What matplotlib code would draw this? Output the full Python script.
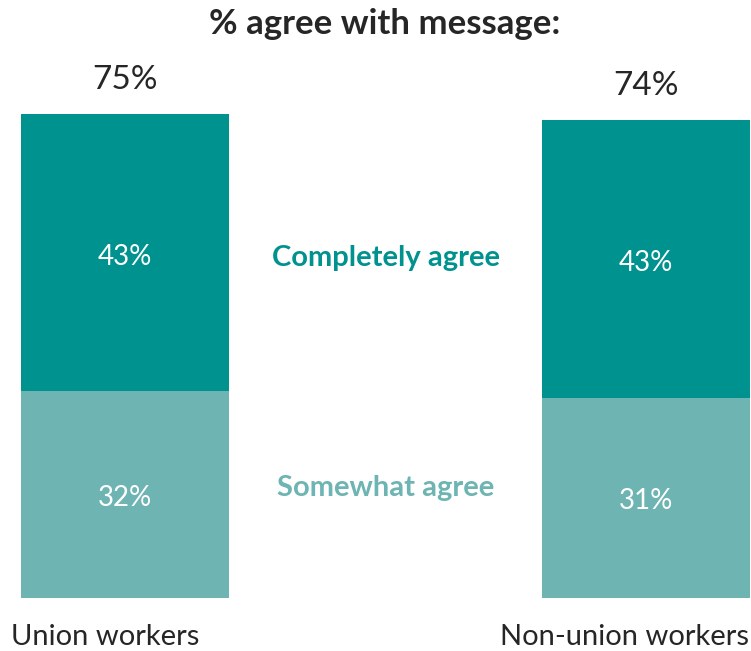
import matplotlib.pyplot as plt
import numpy as np

plt.rcParams['font.family'] = ['Lato', 'DejaVu Sans']

# data
groups = ['Union workers', 'Non-union workers']
somewhat = [32, 31]
completely = [43, 43]
totals = [75, 74]

dark = '#00928F'
light = '#6DB4B2'

fig = plt.figure(figsize=(7.51, 6.51), dpi=100)
ax = fig.add_axes([0, 53/651, 1, 598/651])
x = np.arange(len(groups))
w = 208/521.

ax.bar(x, somewhat, w, color=light)
ax.bar(x, completely, w, bottom=somewhat, color=dark)

for i in range(len(groups)):
    ax.text(x[i], somewhat[i]/2 - 0.5, '%d%%' % somewhat[i], ha='center', va='center',
            color='white', fontsize=20)
    ax.text(x[i], somewhat[i] + completely[i]/2 - 0.7, '%d%%' % completely[i],
            ha='center', va='center', color='white', fontsize=20)
    ax.text(x[i], totals[i] + 2.9, '%d%%' % totals[i], ha='center', va='bottom',
            color='#262626', fontsize=24)

ax.text(0.5, somewhat[0] + completely[0]/2 - 0.8, 'Completely agree', ha='center',
        va='center', color=dark, fontsize=21, fontweight='bold')
ax.text(0.5, somewhat[0]/2 + 1.0, 'Somewhat agree', ha='center',
        va='center', color=light, fontsize=21, fontweight='bold')

ax.set_xlim(-125/521., 1 + 105/521.)
ax.set_ylim(0, 598/6.46)
ax.axis('off')

fig.text(385/751., 1 - 24/651., '% agree with message:', ha='center', va='center',
         fontsize=25, fontweight='bold', color='#262626')
fig.text(105/751., 1 - 637/651., groups[0], ha='center', va='center',
         fontsize=21, color='#262626')
fig.text(624/751., 1 - 637/651., groups[1], ha='center', va='center',
         fontsize=21, color='#262626')

fig.savefig('out.png', dpi=100)
